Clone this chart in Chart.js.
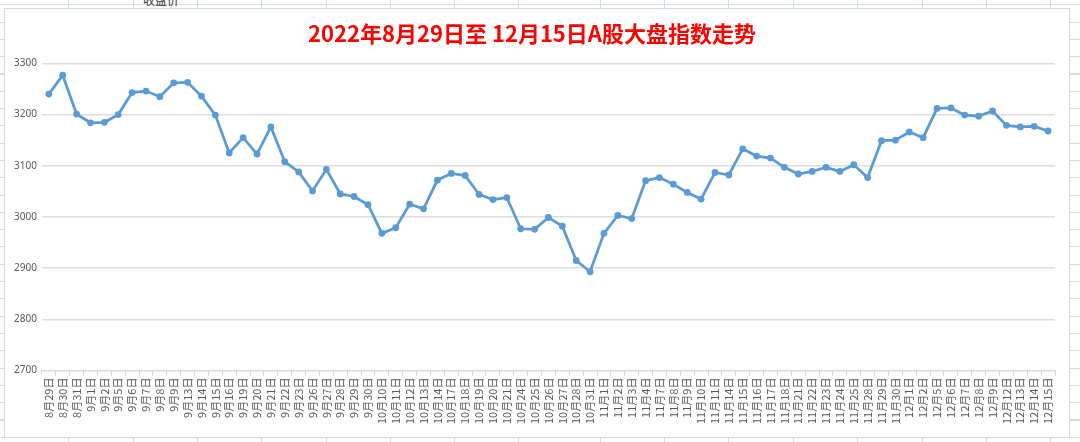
<!DOCTYPE html>
<html>
<head>
<meta charset="utf-8">
<script src="https://cdn.jsdelivr.net/npm/chart.js@4/dist/chart.umd.min.js"></script>
<style>
html,body{margin:0;padding:0;}
body{width:1080px;height:442px;position:relative;overflow:hidden;background:#fff;
  background-image:repeating-linear-gradient(to bottom, transparent 0px, transparent 4.3px, #d4dbe8 4.3px, #d4dbe8 5.3px, transparent 5.3px, transparent 17.3px);
}
.vl{position:absolute;top:0;width:1px;height:442px;background:#d4dbe8;}
#sheettext{position:absolute;left:143px;top:-9px;font:12px "Noto Sans CJK SC";color:#333;}
#box{position:absolute;left:4px;top:8px;width:1066px;height:430px;background:#fff;border:1px solid #d9d9d9;box-sizing:border-box;}
canvas{display:block;}
</style>
</head>
<body>
<div id="vlines"></div>
<span id="sheettext">收盘价</span>
<div id="box"><canvas id="c" width="1064" height="428"></canvas></div>
<script>
const categories = ["8月29日","8月30日","8月31日",
"9月1日","9月2日","9月5日","9月6日","9月7日","9月8日","9月9日","9月13日","9月14日","9月15日","9月16日","9月19日","9月20日","9月21日","9月22日","9月23日","9月26日","9月27日","9月28日","9月29日","9月30日",
"10月10日","10月11日","10月12日","10月13日","10月14日","10月17日","10月18日","10月19日","10月20日","10月21日","10月24日","10月25日","10月26日","10月27日","10月28日","10月31日",
"11月1日","11月2日","11月3日","11月4日","11月7日","11月8日","11月9日","11月10日","11月11日","11月14日","11月15日","11月16日","11月17日","11月18日","11月21日","11月22日","11月23日","11月24日","11月25日","11月28日","11月29日","11月30日",
"12月1日","12月2日","12月5日","12月6日","12月7日","12月8日","12月9日","12月12日","12月13日","12月14日","12月15日"];

const indexValues = [3240,3277,3201,
3184,3185,3200,3243,3246,3235,3262,3263,3236,3199,3125,3155,3123,3176,3108,3088,3051,3093,3045,3040,3024,
2968,2979,3025,3016,3072,3085,3081,3044,3034,3038,2977,2976,2999,2982,2915,2893,
2968,3003,2997,3071,3077,3064,3048,3035,3087,3082,3133,3119,3115,3097,3084,3089,3097,3089,3102,3077,3149,3150,
3166,3155,3212,3213,3199,3197,3207,3179,3176,3177,3168];

const yTicks = [2700,2800,2900,3000,3100,3200,3300];
const titleText = "2022年8月29日至 12月15日A股大盘指数走势";

// spreadsheet column lines (decorative background)
const colLines = [68,133,197,261,326,390,454,518,600,664,728,793,857,922,986,1050];
const vl = document.getElementById('vlines');
colLines.forEach(x => { const d = document.createElement('div'); d.className='vl'; d.style.left = x+'px'; vl.appendChild(d); });

new Chart(document.getElementById('c'), {
  type: 'line',
  data: {
    labels: categories,
    datasets: [{
      data: indexValues,
      borderColor: '#5b9bd5',
      backgroundColor: '#5b9bd5',
      borderWidth: 2.75,
      pointRadius: 3.4,
      pointBackgroundColor: '#5b9bd5',
      pointBorderColor: '#5b9bd5',
      pointBorderWidth: 0,
      tension: 0,
      fill: false
    }]
  },
  options: {
    responsive: false,
    animation: false,
    devicePixelRatio: 1,
    layout: { padding: { left: 4, right: 14, top: 0, bottom: 11 } },
    plugins: {
      legend: { display: false },
      tooltip: { enabled: false },
      title: {
        display: true,
        text: titleText,
        color: '#ff0000',
        font: { family: '"Noto Sans CJK SC"', size: 22, weight: 'bold' },
        padding: { top: 11, bottom: 17 }
      }
    },
    scales: {
      x: {
        type: 'category',
        offset: true,
        border: { display: true, color: '#d9d9d9', width: 1 },
        grid: { display: true, offset: true, drawOnChartArea: false, drawTicks: true, tickLength: 5, color: '#d9d9d9' },
        ticks: {
          autoSkip: false, maxRotation: 90, minRotation: 90, padding: 2,
          color: '#595959',
          font: { family: '"Noto Sans CJK SC"', size: 11 }
        }
      },
      y: {
        min: yTicks[0],
        max: yTicks[yTicks.length-1],
        afterBuildTicks: (axis) => { axis.ticks = yTicks.map(v => ({ value: v })); },
        border: { display: false },
        grid: { color: '#dedede', lineWidth: 1.5, drawTicks: false },
        ticks: {
          padding: 5,
          color: '#595959',
          font: { family: '"Noto Sans", "DejaVu Sans"', size: 10 },
          callback: (v) => String(v)
        }
      }
    }
  }
});
</script>
</body>
</html>
